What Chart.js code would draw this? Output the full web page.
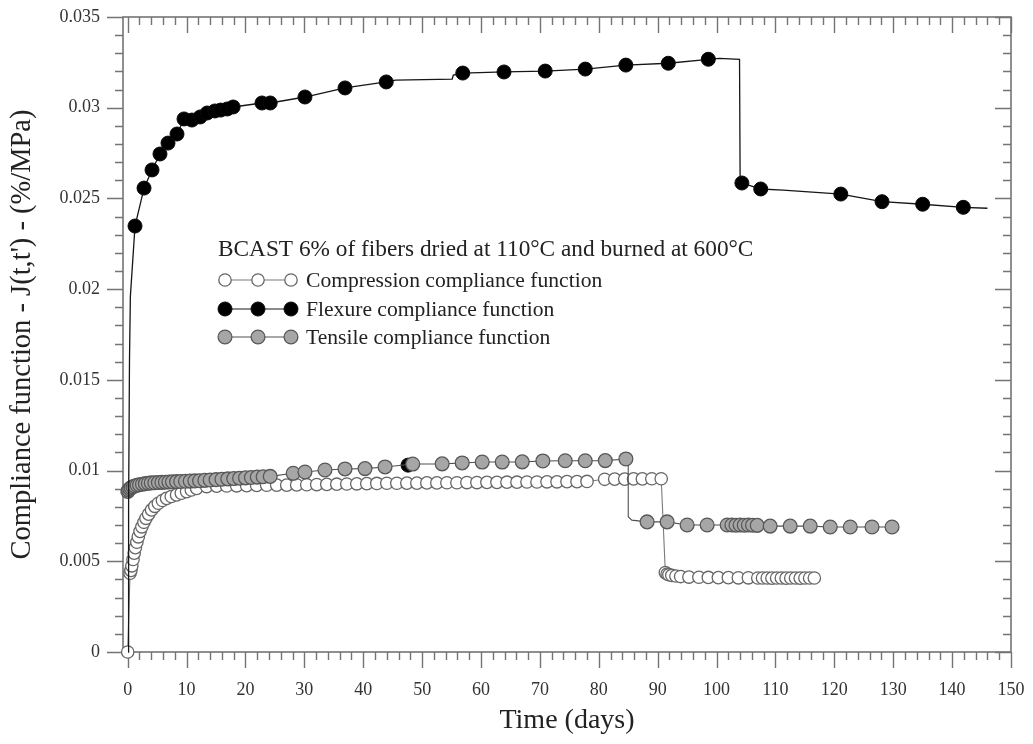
<!DOCTYPE html>
<html>
<head>
<meta charset="utf-8">
<script src="https://cdn.jsdelivr.net/npm/chart.js@4.4.1/dist/chart.umd.min.js"></script>
<style>
  html, body { margin: 0; padding: 0; background: #ffffff; }
  #wrap { width: 1033px; height: 744px; }
</style>
</head>
<body>
<div id="wrap"><canvas id="chart" width="1033" height="744"></canvas></div>
<script>
// Axis ticks
const xTickValues = [0, 10, 20, 30, 40, 50, 60, 70, 80, 90, 100, 110, 120, 130, 140, 150];
const yTickValues = [0, 0.005, 0.01, 0.015, 0.02, 0.025, 0.03, 0.035];
const yTickLabels = ['0', '0.005', '0.01', '0.015', '0.02', '0.025', '0.03', '0.035'];

// Flexure compliance (marked readings)
const flexureDays = [1.24, 2.77, 4.13, 5.48, 6.84, 8.37, 9.56, 10.9, 12.3, 13.5, 14.8, 15.8, 16.9, 17.9,
  22.8, 24.2, 30.1, 36.9, 43.9, 56.9, 63.9, 70.9, 77.7, 84.6, 91.8, 98.6,
  104.3, 107.5, 121.1, 128.1, 135.0, 141.9];
const flexureJ = [0.02348, 0.02557, 0.02657, 0.02745, 0.02805, 0.02855, 0.02938, 0.02932, 0.02949, 0.02971, 0.02982, 0.02987, 0.02993, 0.03004,
  0.03026, 0.03026, 0.03059, 0.03109, 0.03142, 0.03191, 0.03197, 0.03202, 0.03213, 0.03235, 0.03245, 0.03267,
  0.02585, 0.02552, 0.02524, 0.02482, 0.02468, 0.02451];
// Flexure curve readings between the marked ones
const flexureCurveDays = [0.05, 0.15, 0.3, 0.45, 0.8, 45.5, 55.1, 55.3, 100.5, 103.9, 104.0, 111.3, 118.1, 146.0];
const flexureCurveJ = [0, 0.008, 0.016, 0.0196, 0.0213, 0.03152, 0.03158, 0.0318, 0.03272, 0.03266, 0.0259, 0.02546, 0.02531, 0.02446];
// Isolated flexure reading
const flexureLoneDays = [47.6];
const flexureLoneJ = [0.0103];

// Compression compliance
const compressionDays = [0, 0.39, 0.55, 0.7, 0.9, 1.1, 1.3, 1.55, 1.8, 2.1, 2.4, 2.75, 3.1, 3.55, 4.05, 4.6, 5.2, 5.9, 6.6, 7.4, 8.3, 9.1, 10.0, 10.8, 11.7,
  13.4, 15.1, 16.8, 18.5, 20.2, 21.9, 23.6, 25.3, 27.0, 28.7, 30.4, 32.1, 33.8, 35.5, 37.2, 38.9, 40.6, 42.3, 44.0, 45.7,
  47.4, 49.1, 50.8, 52.5, 54.2, 55.9, 57.6, 59.3, 61.0, 62.7, 64.4, 66.1, 67.8, 69.5, 71.2, 72.9, 74.6, 76.3, 78.0,
  81.0, 82.7, 84.4, 85.9, 87.4, 89.0, 90.6,
  91.3, 91.6, 91.9, 92.4, 93.1, 93.9, 95.3, 97.0, 98.6, 100.3, 102.0, 103.7, 105.4,
  107.0, 107.8, 108.6, 109.4, 110.2, 111.0, 111.8, 112.6, 113.4, 114.2, 115.0, 115.8, 116.6];
const compressionJ = [0, 0.00434, 0.0045, 0.00475, 0.0051, 0.00545, 0.00575, 0.00605, 0.00635, 0.00665, 0.0069, 0.00715, 0.00737, 0.0076, 0.00783, 0.00803, 0.0082, 0.00835, 0.00847, 0.00857, 0.00866, 0.00875, 0.00884, 0.00893, 0.00902,
  0.00912, 0.00914, 0.00915, 0.00916, 0.00917, 0.00918, 0.00919, 0.0092, 0.0092, 0.00921, 0.00922, 0.00923, 0.00924, 0.00925, 0.00926, 0.00927, 0.00928, 0.00929, 0.0093, 0.0093,
  0.00931, 0.00931, 0.00932, 0.00932, 0.00933, 0.00933, 0.00934, 0.00934, 0.00935, 0.00935, 0.00936, 0.00936, 0.00937, 0.00937, 0.00938, 0.00938, 0.00939, 0.00939, 0.0094,
  0.00952, 0.00953, 0.00953, 0.00954, 0.00954, 0.00955, 0.00955,
  0.00438, 0.0043, 0.00426, 0.00422, 0.00419, 0.00416, 0.00413, 0.00412, 0.00411, 0.0041, 0.0041, 0.00409, 0.00409,
  0.00408, 0.00408, 0.00408, 0.00407, 0.00408, 0.00408, 0.00407, 0.00408, 0.00408, 0.00407, 0.00408, 0.00408, 0.00408];

// Tensile compliance
const tensileDays = [0.02, 0.15, 0.35, 0.6, 0.9, 1.2, 1.6, 2.0, 2.5, 3.0, 3.5, 4.0, 4.6, 5.2, 5.8, 6.4, 7.0, 7.6, 8.3, 9.0,
  9.8, 10.6, 11.4, 12.2, 13.1, 14.0, 15.0, 16.0, 17.0, 18.0, 19.0, 20.0, 21.0, 22.0, 23.0, 24.2,
  28.1, 30.1, 33.5, 36.9, 40.3, 43.7, 48.4, 53.4, 56.8, 60.2, 63.6, 67.0, 70.5, 74.3, 77.7, 81.1, 84.6,
  88.2, 91.6, 95.0, 98.4, 101.8, 102.6, 103.3, 104.0, 104.7, 105.4, 106.1, 106.9,
  109.1, 112.5, 115.9, 119.3, 122.7, 126.4, 129.8];
const tensileJ = [0.00885, 0.00893, 0.009, 0.00906, 0.00911, 0.00915, 0.00919, 0.00922, 0.00925, 0.00928, 0.0093, 0.00932, 0.00933, 0.00934, 0.00935, 0.00936, 0.00937, 0.00938, 0.00939, 0.0094,
  0.00941, 0.00942, 0.00943, 0.00944, 0.00946, 0.00948, 0.0095, 0.00952, 0.00954, 0.00956, 0.00958, 0.0096, 0.00962, 0.00964, 0.00966, 0.00968,
  0.00985, 0.00992, 0.01003, 0.01009, 0.01011, 0.0102, 0.01036, 0.01037, 0.01042, 0.01047, 0.01047, 0.01048, 0.01053, 0.01054, 0.01054, 0.01055, 0.01064,
  0.00717, 0.00717, 0.0070, 0.0070, 0.007, 0.007, 0.00699, 0.007, 0.00699, 0.007, 0.00699, 0.00698,
  0.00694, 0.00694, 0.00694, 0.00689, 0.00689, 0.00689, 0.00689];
// Tensile curve readings at the unloading step
const tensileCurveDays = [85.0, 85.0, 85.6];
const tensileCurveJ = [0.01062, 0.00746, 0.00727];

const legendTitle = 'BCAST 6% of fibers dried at 110\u00B0C and burned at 600\u00B0C';
const seriesNames = ['Compression compliance function', 'Flexure compliance function', 'Tensile compliance function'];

const SERIF = "'Liberation Serif', 'Times New Roman', serif";

function toPoints(xs, ys) { return xs.map((x, i) => ({ x: x, y: ys[i] })); }
function mergePath(xs1, ys1, xs2, ys2) {
  return toPoints(xs1, ys1).concat(toPoints(xs2, ys2)).sort((a, b) => a.x - b.x);
}

const STYLE = {
  compression: { fill: '#ffffff', edge: '#666666', line: '#7a7a7a', r: 6.2, bw: 1.3 },
  flexure: { fill: '#000000', edge: '#0a0a0a', line: '#161616', r: 7.0, bw: 1 },
  tensile: { fill: '#a6a6a6', edge: '#585858', line: '#505050', r: 6.9, bw: 1.3 }
};

// Box frame with inward ticks on top/right and outward ticks on bottom/left
const framePlugin = {
  id: 'frame',
  beforeDatasetsDraw(chart) {
    const { ctx, chartArea: a, scales } = chart;
    const xs = scales.x, ys = scales.y;
    ctx.save();
    ctx.strokeStyle = '#747474';
    ctx.lineWidth = 1.6;
    ctx.strokeRect(a.left, a.top, a.right - a.left, a.bottom - a.top);
    ctx.lineWidth = 1.4;
    ctx.beginPath();
    for (let k = 0; k <= 75; k++) {
      const v = k * 2;
      const px = Math.round(xs.getPixelForValue(v)) + 0.5;
      const len = (v % 10 === 0) ? 16 : 8;
      ctx.moveTo(px, a.bottom); ctx.lineTo(px, a.bottom + len);
      ctx.moveTo(px, a.top); ctx.lineTo(px, a.top + len);
    }
    for (let k = 0; k <= 35; k++) {
      const py = Math.round(ys.getPixelForValue(k * 0.001)) + 0.5;
      const len = (k % 5 === 0) ? 16 : 8;
      ctx.moveTo(a.left, py); ctx.lineTo(a.left - len, py);
      ctx.moveTo(a.right, py); ctx.lineTo(a.right - len, py);
    }
    ctx.stroke();
    ctx.restore();
  }
};

// Legend block inside the plot
const legendPlugin = {
  id: 'innerLegend',
  afterDatasetsDraw(chart) {
    const { ctx } = chart;
    ctx.save();
    ctx.fillStyle = '#222222';
    ctx.textBaseline = 'middle';
    ctx.textAlign = 'left';
    ctx.font = '23.3px ' + SERIF;
    ctx.fillText(legendTitle, 218, 250);
    ctx.font = '21.6px ' + SERIF;
    const rows = [STYLE.compression, STYLE.flexure, STYLE.tensile];
    const rowY = [280, 309, 337];
    const mx = [225, 258, 291];
    rows.forEach((s, i) => {
      const y = rowY[i];
      ctx.strokeStyle = s.line;
      ctx.lineWidth = 1.2;
      ctx.beginPath();
      ctx.moveTo(mx[0], y); ctx.lineTo(mx[2], y);
      ctx.stroke();
      mx.forEach(x => {
        ctx.beginPath();
        ctx.arc(x, y, s.r, 0, Math.PI * 2);
        ctx.fillStyle = s.fill;
        ctx.fill();
        ctx.lineWidth = s.bw;
        ctx.strokeStyle = s.edge;
        ctx.stroke();
      });
      ctx.fillStyle = '#222222';
      ctx.fillText(seriesNames[i], 306, y + 1);
    });
    ctx.restore();
  }
};

Chart.defaults.font.family = SERIF;

function markStyle(s) {
  return {
    pointRadius: s.r,
    pointBackgroundColor: s.fill,
    pointBorderColor: s.edge,
    pointBorderWidth: s.bw
  };
}

new Chart(document.getElementById('chart'), {
  type: 'scatter',
  data: {
    datasets: [
      Object.assign({
        label: seriesNames[1] + ' marks',
        data: toPoints(flexureDays, flexureJ),
        showLine: false,
        order: 0,
        clip: false
      }, markStyle(STYLE.flexure)),
      {
        label: seriesNames[1],
        data: mergePath(flexureDays, flexureJ, flexureCurveDays, flexureCurveJ),
        showLine: true,
        borderColor: STYLE.flexure.line,
        borderWidth: 1.3,
        pointRadius: 0,
        order: 1,
        clip: false
      },
      Object.assign({
        label: seriesNames[2],
        data: toPoints(tensileDays, tensileJ),
        showLine: false,
        order: 2,
        clip: false
      }, markStyle(STYLE.tensile)),
      {
        label: seriesNames[2] + ' line',
        data: mergePath(tensileDays, tensileJ, tensileCurveDays, tensileCurveJ),
        showLine: true,
        borderColor: STYLE.tensile.line,
        borderWidth: 1.1,
        pointRadius: 0,
        order: 3,
        clip: false
      },
      Object.assign({
        label: seriesNames[1] + ' single',
        data: toPoints(flexureLoneDays, flexureLoneJ),
        showLine: false,
        order: 4,
        clip: false
      }, markStyle(STYLE.flexure)),
      Object.assign({
        label: seriesNames[0],
        data: toPoints(compressionDays, compressionJ),
        showLine: true,
        borderColor: STYLE.compression.line,
        borderWidth: 1.1,
        order: 5,
        clip: false
      }, markStyle(STYLE.compression))
    ]
  },
  options: {
    responsive: false,
    animation: false,
    devicePixelRatio: 1,
    layout: { padding: { top: 17, right: 22, left: 0, bottom: 0 } },
    plugins: {
      legend: { display: false },
      tooltip: { enabled: false }
    },
    elements: { line: { tension: 0 } },
    scales: {
      x: {
        type: 'linear',
        position: 'bottom',
        min: -0.8,
        max: 150,
        afterBuildTicks(scale) { scale.ticks = xTickValues.map(v => ({ value: v })); },
        afterFit(scale) {
          scale.height = 92;
          scale.paddingLeft = 0; scale.paddingRight = 0;
        },
        grid: { display: true, drawOnChartArea: false, color: 'rgba(0,0,0,0)', tickLength: 16 },
        border: { display: false },
        ticks: {
          autoSkip: false,
          maxRotation: 0,
          padding: 11,
          color: '#333333',
          font: { size: 18, family: SERIF },
          callback: (v) => String(v)
        },
        title: {
          display: true,
          text: 'Time (days)',
          color: '#222222',
          font: { size: 28, family: SERIF },
          padding: { top: 0, bottom: 7 }
        }
      },
      y: {
        type: 'linear',
        position: 'left',
        min: 0,
        max: 0.035,
        afterBuildTicks(scale) { scale.ticks = yTickValues.map(v => ({ value: v })); },
        afterFit(scale) {
          scale.width = 123;
          scale.paddingTop = 0; scale.paddingBottom = 0;
        },
        grid: { display: true, drawOnChartArea: false, color: 'rgba(0,0,0,0)', tickLength: 16 },
        border: { display: false },
        ticks: {
          autoSkip: false,
          padding: 7,
          color: '#333333',
          font: { size: 18, family: SERIF },
          callback: (v) => {
            const i = yTickValues.findIndex(t => Math.abs(t - v) < 1e-9);
            return i >= 0 ? yTickLabels[i] : '';
          }
        },
        title: {
          display: true,
          text: "Compliance function - J(t,t') - (%/MPa)",
          color: '#222222',
          font: { size: 28.5, family: SERIF },
          padding: { top: 5, bottom: 0 }
        }
      }
    }
  },
  plugins: [framePlugin, legendPlugin]
});
</script>
</body>
</html>
